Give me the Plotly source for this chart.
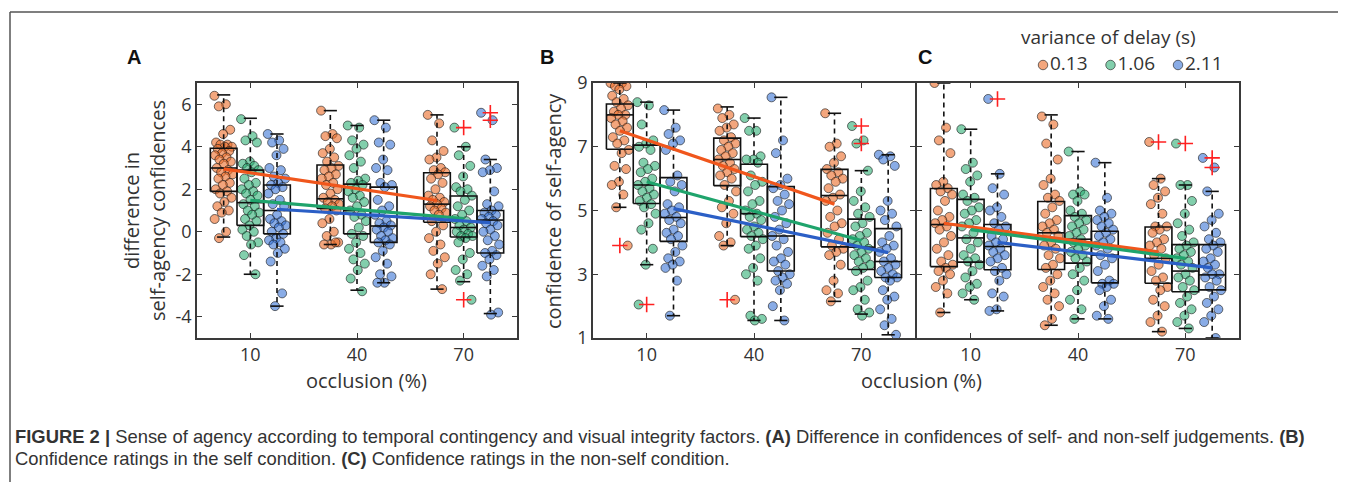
import plotly.graph_objects as go

# ---------------- data ----------------
occlusion = [10, 40, 70]
variance_labels = ["0.13", "1.06", "2.11"]
x_ticks = [10, 40, 70]

# Panel A: difference in self-agency confidences (rows: occlusion 10, 40, 70)
A_pts_013 = [
    [6.4, 6.0, 5.9, 4.8, 4.6, 4.2, 4.1, 4.1, 4.0, 4.0, 3.9, 3.8, 3.7, 3.6, 3.5, 3.4, 3.3, 3.2, 3.0, 2.9, 2.8, 2.7, 2.6, 2.5, 2.3, 2.2, 2.0, 1.9, 1.8, 1.6, 1.4, 1.2, 1.0, 0.9, 0.6, 0.0, -0.3],
    [5.7, 4.6, 4.5, 4.4, 3.9, 3.7, 3.5, 3.3, 3.1, 3.0, 2.9, 2.7, 2.6, 2.5, 2.3, 2.2, 2.0, 1.8, 1.6, 1.5, 1.4, 1.3, 1.2, 1.1, 1.0, 0.6, 0.4, 0.0, -0.2, -0.5, -0.6, -0.6, -0.5],
    [5.5, 5.1, 4.3, 3.8, 3.5, 3.4, 3.0, 2.9, 2.8, 2.7, 2.5, 2.3, 2.0, 1.7, 1.6, 1.5, 1.4, 1.3, 1.2, 1.1, 1.0, 0.9, 0.8, 0.5, 0.3, 0.0, -0.3, -0.6, -0.9, -1.2, -1.5, -2.0, -2.7],
]
A_pts_106 = [
    [5.3, 4.5, 4.3, 4.2, 3.3, 3.2, 3.1, 3.0, 2.9, 2.8, 2.5, 2.3, 2.2, 2.0, 1.9, 1.8, 1.7, 1.5, 1.3, 1.2, 1.0, 0.9, 0.8, 0.6, 0.5, 0.3, 0.1, 0.0, -0.2, -0.5, -0.6, -1.1, -2.0],
    [5.0, 4.9, 4.3, 4.1, 3.9, 3.6, 3.3, 3.0, 2.5, 2.4, 2.3, 2.2, 2.0, 1.9, 1.7, 1.6, 1.4, 1.2, 1.0, 0.8, 0.7, 0.5, 0.2, -0.1, -0.2, -0.5, -0.8, -1.0, -1.3, -1.5, -1.8, -2.2, -2.8],
    [4.9, 4.0, 3.6, 3.1, 2.6, 2.1, 2.0, 1.9, 1.7, 1.5, 1.2, 1.0, 0.8, 0.6, 0.5, 0.3, 0.2, 0.1, 0.0, -0.1, -0.2, -0.2, -0.3, -0.5, -1.0, -1.3, -1.8, -2.0, -2.3, -3.2],
]
A_pts_211 = [
    [4.6, 4.3, 4.2, 3.9, 3.6, 3.0, 2.9, 2.6, 2.5, 2.3, 2.2, 2.1, 2.0, 1.8, 1.5, 1.3, 1.2, 0.8, 0.6, 0.5, 0.4, 0.3, 0.2, 0.0, -0.1, -0.3, -0.4, -0.5, -0.6, -0.8, -1.0, -1.4, -2.9, -3.5],
    [5.25, 4.9, 4.2, 4.1, 3.4, 3.0, 2.9, 2.3, 2.2, 2.1, 1.5, 1.2, 1.0, 0.8, 0.5, 0.4, 0.3, 0.2, 0.1, 0.0, -0.2, -0.3, -0.4, -0.5, -0.6, -0.9, -1.2, -1.5, -2.0, -2.1, -2.4, -2.4],
    [5.6, 5.25, 3.4, 3.0, 2.9, 2.8, 1.9, 1.3, 1.2, 1.0, 0.9, 0.8, 0.7, 0.6, 0.5, 0.4, 0.3, 0.1, 0.0, -0.2, -0.4, -0.6, -0.9, -1.0, -1.1, -1.3, -1.6, -1.8, -2.1, -3.8, -3.9],
]
# box statistics, rows = variance (0.13, 1.06, 2.11), columns = occlusion (10, 40, 70)
A_lo = [[-0.25, -0.6, -2.7], [-2.0, -2.75, -2.35], [-3.5, -2.4, -3.85]]
A_q1 = [[1.9, 1.1, 0.45], [0.3, -0.1, -0.25], [-0.1, -0.5, -1.0]]
A_med = [[3.0, 1.55, 1.3], [1.37, 1.0, 0.2], [1.0, 0.27, 0.55]]
A_q3 = [[3.93, 3.14, 2.78], [2.9, 2.24, 1.68], [2.2, 2.1, 1.0]]
A_hi = [[6.44, 5.7, 5.5], [5.34, 5.0, 4.0], [4.6, 5.25, 3.4]]
A_out = [[[], [], []], [[], [], [4.9, -3.2]], [[], [], [5.6, 5.25]]]
A_mean = [[2.96, 2.2, 1.47], [1.48, 1.05, 0.62], [1.06, 0.75, 0.43]]

# Panel B: confidence of self-agency (self condition)
B_pts_013 = [
    [9.0, 9.0, 8.9, 8.9, 8.8, 8.6, 8.5, 8.4, 8.3, 8.2, 8.1, 8.0, 8.0, 7.9, 7.8, 7.7, 7.6, 7.5, 7.3, 7.2, 7.1, 6.9, 6.8, 6.4, 6.3, 5.9, 5.8, 5.5, 5.1, 3.9],
    [8.2, 8.0, 7.9, 7.7, 7.6, 7.5, 7.3, 7.2, 7.1, 7.0, 6.9, 6.8, 6.7, 6.6, 6.5, 6.4, 6.3, 6.2, 6.1, 6.0, 5.8, 5.6, 5.3, 5.1, 4.9, 4.6, 4.2, 4.0, 3.9, 2.2],
    [8.05, 7.1, 7.0, 6.7, 6.5, 6.3, 6.2, 6.1, 6.0, 5.9, 5.7, 5.5, 5.4, 5.3, 5.0, 4.8, 4.6, 4.5, 4.3, 4.1, 3.9, 3.8, 3.7, 3.6, 3.3, 2.8, 2.5, 2.4, 2.15],
]
B_pts_106 = [
    [8.4, 8.3, 7.7, 7.2, 7.1, 7.0, 6.9, 6.5, 6.4, 6.3, 6.2, 6.0, 5.9, 5.8, 5.7, 5.6, 5.5, 5.4, 5.3, 5.2, 5.1, 4.9, 4.6, 4.4, 3.8, 3.3, 2.05],
    [7.9, 7.5, 7.5, 6.7, 6.6, 6.6, 6.5, 6.1, 5.9, 5.8, 5.6, 5.3, 5.2, 5.0, 4.9, 4.8, 4.7, 4.5, 4.4, 4.3, 4.2, 4.1, 3.9, 3.8, 3.5, 3.2, 3.0, 2.8, 1.7, 1.6, 1.55],
    [7.65, 7.2, 7.1, 6.25, 5.6, 5.3, 5.1, 4.9, 4.8, 4.6, 4.5, 4.3, 4.2, 4.1, 4.0, 3.9, 3.8, 3.7, 3.6, 3.5, 3.4, 3.3, 3.2, 3.1, 2.8, 2.6, 2.5, 2.2, 1.9, 1.8, 1.7],
]
B_pts_211 = [
    [8.15, 7.6, 7.4, 7.2, 7.1, 6.9, 6.1, 5.9, 5.8, 5.6, 5.2, 5.1, 5.0, 4.9, 4.8, 4.7, 4.6, 4.4, 4.3, 4.2, 4.1, 3.9, 3.7, 3.5, 3.4, 3.3, 3.2, 2.8, 1.7],
    [8.55, 7.2, 6.8, 6.0, 5.8, 5.7, 5.5, 5.3, 5.2, 5.0, 4.8, 4.6, 4.4, 4.2, 4.1, 3.9, 3.7, 3.5, 3.4, 3.3, 3.1, 3.0, 2.9, 2.8, 2.7, 2.5, 2.0, 1.55],
    [6.75, 6.7, 6.6, 6.4, 5.3, 5.0, 4.9, 4.7, 4.5, 4.2, 4.0, 3.9, 3.8, 3.7, 3.5, 3.4, 3.3, 3.2, 3.1, 3.0, 2.9, 2.9, 2.8, 2.5, 2.3, 2.2, 1.9, 1.6, 1.4, 1.1],
]
B_lo = [[5.1, 3.9, 2.15], [3.3, 1.55, 1.75], [1.7, 1.55, 1.1]]
B_q1 = [[6.92, 5.78, 3.86], [5.22, 4.18, 3.15], [4.03, 3.1, 2.9]]
B_med = [[8.0, 6.6, 5.47], [5.8, 4.9, 3.85], [4.78, 4.2, 3.4]]
B_q3 = [[8.34, 7.27, 6.29], [7.05, 6.45, 4.73], [6.03, 5.75, 4.43]]
B_hi = [[9.0, 8.25, 8.05], [8.4, 7.9, 6.25], [8.15, 8.55, 6.75]]
B_out = [[[3.9], [2.2], []], [[2.05], [], [7.65, 7.1]], [[], [], []]]
B_mean = [[7.5, 6.35, 5.2], [5.9, 4.98, 4.06], [5.06, 4.37, 3.68]]

# Panel C: confidence of self-agency (non-self condition)
C_pts_013 = [
    [9.0, 7.6, 7.2, 6.8, 5.9, 5.8, 5.7, 5.6, 5.5, 5.3, 5.0, 4.8, 4.7, 4.6, 4.5, 4.4, 4.2, 4.0, 3.8, 3.6, 3.4, 3.3, 3.2, 3.1, 3.0, 2.8, 2.6, 2.4, 1.8],
    [7.95, 7.7, 7.1, 6.6, 6.0, 5.8, 5.5, 5.4, 5.3, 5.1, 4.9, 4.7, 4.6, 4.5, 4.4, 4.3, 4.2, 4.0, 3.9, 3.8, 3.6, 3.5, 3.3, 3.2, 3.0, 2.8, 2.6, 2.4, 2.2, 2.0, 1.6, 1.4],
    [7.15, 6.0, 5.8, 5.6, 5.4, 5.2, 4.9, 4.5, 4.5, 4.4, 4.3, 4.1, 4.0, 3.9, 3.8, 3.6, 3.5, 3.3, 3.1, 2.9, 2.8, 2.6, 2.5, 2.2, 2.0, 1.7, 1.5, 1.2],
]
C_pts_106 = [
    [7.55, 6.5, 6.3, 6.1, 5.9, 5.5, 5.4, 5.3, 5.1, 5.0, 4.9, 4.7, 4.6, 4.5, 4.3, 4.1, 4.0, 3.8, 3.6, 3.5, 3.4, 3.3, 3.1, 2.9, 2.7, 2.6, 2.4, 2.2],
    [6.85, 5.6, 5.5, 5.5, 5.3, 5.0, 4.9, 4.8, 4.7, 4.6, 4.5, 4.4, 4.3, 4.2, 4.1, 4.0, 3.9, 3.8, 3.7, 3.6, 3.5, 3.4, 3.2, 3.0, 2.8, 2.5, 2.2, 1.9, 1.6],
    [7.1, 5.8, 5.8, 5.3, 4.9, 4.6, 4.4, 4.2, 4.0, 3.9, 3.8, 3.7, 3.6, 3.5, 3.4, 3.3, 3.2, 3.0, 2.9, 2.8, 2.6, 2.5, 2.3, 2.1, 1.9, 1.7, 1.5, 1.3],
]
C_pts_211 = [
    [8.5, 6.15, 5.7, 5.5, 5.1, 5.0, 4.8, 4.6, 4.5, 4.4, 4.2, 4.1, 4.0, 3.9, 3.8, 3.7, 3.6, 3.5, 3.4, 3.2, 3.1, 3.0, 2.8, 2.4, 2.3, 1.9, 1.85],
    [6.5, 5.4, 5.0, 4.9, 4.8, 4.7, 4.6, 4.5, 4.4, 4.3, 4.2, 4.1, 4.0, 3.9, 3.8, 3.6, 3.5, 3.3, 3.1, 2.8, 2.7, 2.7, 2.6, 2.5, 2.2, 2.0, 1.7, 1.6],
    [6.65, 6.35, 5.6, 4.9, 4.7, 4.5, 4.3, 4.1, 4.0, 3.9, 3.8, 3.7, 3.5, 3.4, 3.3, 3.2, 3.0, 3.0, 2.9, 2.8, 2.6, 2.5, 2.3, 2.1, 1.9, 1.7, 1.5, 1.0],
]
C_lo = [[1.8, 1.4, 1.2], [2.2, 1.6, 1.3], [1.85, 1.6, 1.0]]
C_q1 = [[3.24, 3.15, 2.72], [3.38, 3.35, 2.45], [3.14, 2.73, 2.51]]
C_med = [[4.56, 4.3, 3.5], [4.14, 4.1, 3.1], [3.87, 3.6, 2.98]]
C_q3 = [[5.69, 5.28, 4.48], [5.35, 4.84, 3.93], [4.56, 4.35, 3.93]]
C_hi = [[9.0, 8.0, 6.0], [7.55, 6.85, 5.8], [6.15, 6.5, 5.6]]
C_out = [[[], [], [7.15]], [[], [], [7.1]], [[8.5], [], [6.65, 6.35]]]
C_mean = [[4.6, 4.15, 3.7], [4.4, 3.95, 3.5], [4.0, 3.6, 3.2]]

# ---------------- style ----------------
W, H = 1346, 482
OFF = 8  # page offset of the plot div (default body margin)
group_offset = [-7.5, 0.0, 7.5]
box_half = 3.75
cap_half = 1.85
jit = 2.6
fill_colors = ["rgba(236,112,45,0.62)", "rgba(40,172,112,0.58)", "rgba(52,112,212,0.58)"]
line_colors = ["#F0561C", "#1FA46C", "#2B5FC6"]
axis_col = "#3a3a3a"
text_col = "#333333"
FONT = "Open Sans"


def px_x(p):
    return (p - OFF) / W


def px_y(p):
    return 1 - (p - OFF) / H


fig = go.Figure()


def add_panel(n, pts, lo, q1, med, q3, hi, outl, means):
    xa = "x" if n == 1 else f"x{n}"
    ya = "y" if n == 1 else f"y{n}"
    # jittered points
    for v in range(3):
        xs, ys = [], []
        for o in range(3):
            c = occlusion[o] + group_offset[v]
            for i, val in enumerate(pts[v][o]):
                xs.append(c + (((i * 0.6180339887) % 1.0) - 0.5) * 2 * jit)
                ys.append(val)
        fig.add_trace(go.Scatter(
            x=xs, y=ys, mode="markers", xaxis=xa, yaxis=ya,
            name=variance_labels[v], showlegend=False,
            marker=dict(size=9, color=fill_colors[v],
                        line=dict(color="rgba(20,20,20,0.75)", width=0.8)),
            hoverinfo="skip"))
    # boxes, medians and caps
    bx, by, wx, wy, ox, oy = [], [], [], [], [], []
    for v in range(3):
        for o in range(3):
            c = occlusion[o] + group_offset[v]
            l, r = c - box_half, c + box_half
            bx += [l, r, r, l, l, None, l, r, None,
                   c - cap_half, c + cap_half, None, c - cap_half, c + cap_half, None]
            by += [q1[v][o], q1[v][o], q3[v][o], q3[v][o], q1[v][o], None,
                   med[v][o], med[v][o], None,
                   hi[v][o], hi[v][o], None, lo[v][o], lo[v][o], None]
            wx += [c, c, None, c, c, None]
            wy += [q3[v][o], hi[v][o], None, q1[v][o], lo[v][o], None]
            for val in outl[v][o]:
                ox.append(c)
                oy.append(val)
    fig.add_trace(go.Scatter(x=wx, y=wy, mode="lines", xaxis=xa, yaxis=ya,
                             line=dict(color="#111111", width=1.6, dash="5px,4px"),
                             showlegend=False, hoverinfo="skip"))
    fig.add_trace(go.Scatter(x=bx, y=by, mode="lines", xaxis=xa, yaxis=ya,
                             line=dict(color="#111111", width=1.6),
                             showlegend=False, hoverinfo="skip"))
    fig.add_trace(go.Scatter(x=ox, y=oy, mode="markers", xaxis=xa, yaxis=ya,
                             marker=dict(symbol="cross-thin", size=11,
                                         line=dict(color="#ff2020", width=1.6)),
                             showlegend=False, hoverinfo="skip"))
    # mean lines
    for v in range(3):
        fig.add_trace(go.Scatter(
            x=[occ + group_offset[v] for occ in occlusion], y=means[v],
            mode="lines", xaxis=xa, yaxis=ya,
            line=dict(color=line_colors[v], width=3.2),
            showlegend=False, hoverinfo="skip"))


add_panel(1, [A_pts_013, A_pts_106, A_pts_211], A_lo, A_q1, A_med, A_q3, A_hi, A_out, A_mean)
add_panel(2, [B_pts_013, B_pts_106, B_pts_211], B_lo, B_q1, B_med, B_q3, B_hi, B_out, B_mean)
add_panel(3, [C_pts_013, C_pts_106, C_pts_211], C_lo, C_q1, C_med, C_q3, C_hi, C_out, C_mean)

# legend key (variance of delay) drawn on its own small hidden axis
key_pos = list(range(len(variance_labels)))
fig.add_trace(go.Scatter(
    x=key_pos, y=[0] * len(key_pos), mode="markers+text", xaxis="x4", yaxis="y4",
    text=variance_labels, textposition="middle right",
    textfont=dict(family=FONT, size=19, color=text_col),
    marker=dict(size=9.5, color=fill_colors, line=dict(color="rgba(20,20,20,0.75)", width=0.8)),
    showlegend=False, hoverinfo="skip"))

y_dom = [px_y(338), px_y(83)]
axis_common = dict(showgrid=False, zeroline=False, showline=True, mirror="ticks",
                   linecolor=axis_col, linewidth=1.6, ticks="inside", ticklen=5,
                   tickcolor=axis_col, tickwidth=1.3,
                   tickfont=dict(family=FONT, size=18, color=text_col))

A_yticks = [-4, -2, 0, 2, 4, 6]
B_yticks = [1, 3, 5, 7, 9]
key_px = 67.5  # pixels per legend key step

fig.update_layout(
    width=W, height=H, autosize=False,
    margin=dict(l=0, r=0, t=0, b=0, pad=0, autoexpand=False),
    paper_bgcolor="white", plot_bgcolor="white",
    xaxis=dict(domain=[px_x(197), px_x(517)], range=[-5, 85], tickvals=x_ticks,
               anchor="y", **axis_common),
    yaxis=dict(domain=y_dom, range=[-5, 7], tickvals=A_yticks,
               ticktext=[str(t) for t in A_yticks], anchor="x", **axis_common),
    xaxis2=dict(domain=[px_x(593), px_x(915)], range=[-5, 85], tickvals=x_ticks,
                anchor="y2", **axis_common),
    yaxis2=dict(domain=y_dom, range=[1, 9], tickvals=B_yticks, anchor="x2", **axis_common),
    xaxis3=dict(domain=[px_x(917), px_x(1239)], range=[-5, 85], tickvals=x_ticks,
                anchor="y3", **axis_common),
    yaxis3=dict(domain=y_dom, range=[1, 9], tickvals=B_yticks, showticklabels=False,
                anchor="x3", **axis_common),
    xaxis4=dict(domain=[px_x(1020), px_x(1245)], anchor="y4", visible=False,
                range=[-(1043 - 1020) / key_px, -(1043 - 1020) / key_px + 225 / key_px],
                fixedrange=True),
    yaxis4=dict(domain=[px_y(77), px_y(53)], anchor="x4", visible=False, range=[-1, 1],
                fixedrange=True),
    showlegend=False,
)

ann = []


def add_text(text, x, y, size, angle=0, xanchor="center", family=FONT, color=text_col):
    ann.append(dict(text=text, x=px_x(x), y=px_y(y), xref="paper", yref="paper",
                    showarrow=False, textangle=angle, xanchor=xanchor, yanchor="middle",
                    font=dict(family=family, size=size, color=color)))


add_text("<b>A</b>", 134, 57, 20, family="Liberation Sans", color="#111")
add_text("<b>B</b>", 547, 57, 20, family="Liberation Sans", color="#111")
add_text("<b>C</b>", 925, 57, 20, family="Liberation Sans", color="#111")
add_text("variance of delay (s)", 1108, 37, 19)
add_text("difference in<br>self-agency confidences", 144, 211, 20, angle=-90)
add_text("confidence of self-agency", 553, 211, 20, angle=-90)
add_text("occlusion (%)", 366, 380, 20)
add_text("occlusion (%)", 921, 380, 20)
add_text("<b>FIGURE 2 |</b> Sense of agency according to temporal contingency and visual integrity factors. "
         "<b>(A)</b> Difference in confidences of self- and non-self judgements. <b>(B)</b>",
         13, 436, 18.4, xanchor="left", family="Liberation Sans")
add_text("Confidence ratings in the self condition. <b>(C)</b> Confidence ratings in the non-self condition.",
         13, 458, 18.4, xanchor="left", family="Liberation Sans")
fig.update_layout(annotations=ann)

fig.update_layout(shapes=[
    dict(type="line", xref="paper", yref="paper", x0=px_x(10), x1=1, y0=px_y(12), y1=px_y(12),
         line=dict(color="#555555", width=1.5)),
    dict(type="line", xref="paper", yref="paper", x0=px_x(10), x1=px_x(10), y0=0, y1=px_y(12),
         line=dict(color="#555555", width=1.5)),
])

fig.write_html("out.html")
